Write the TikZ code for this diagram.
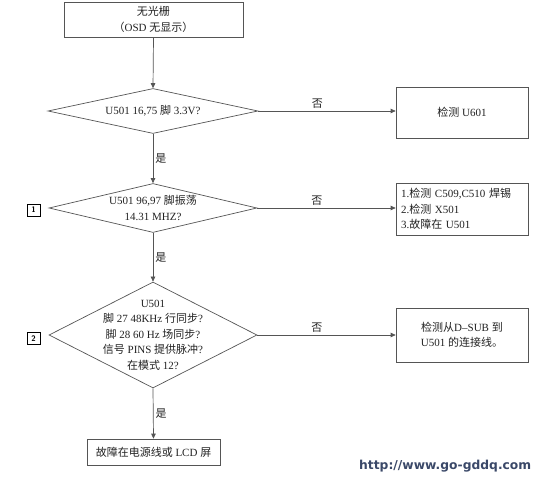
\documentclass[tikz,border=0pt]{standalone}
\usepackage{fontspec}
\setmainfont{Liberation Serif}
\newfontfamily\cjk{Noto Sans CJK SC}
\newfontfamily\webfont{DejaVu Sans}
\usetikzlibrary{shapes.geometric,arrows.meta}
\newcommand\zh[1]{{\cjk #1}}
\definecolor{linec}{HTML}{555555}
\definecolor{txtc}{HTML}{222222}
\definecolor{webc}{HTML}{3A4868}
\tikzset{
  box/.style={draw=linec, line width=0.7pt, rectangle, inner sep=0pt, font=\fontsize{11}{15.5}\selectfont, text=txtc},
  dia/.style={draw=linec, line width=0.7pt, diamond, inner sep=0pt},
  dtext/.style={align=center, font=\fontsize{11}{15.5}\selectfont, text=txtc, inner sep=0pt},
  tag/.style={draw=black, line width=0.6pt, minimum width=13pt, minimum height=12pt, inner sep=0pt, font=\sffamily\bfseries\fontsize{8}{9}\selectfont},
  conn/.style={draw=linec, line width=0.7pt, -{Triangle[length=5pt,width=4.5pt]}},
  lbl/.style={font=\fontsize{11}{12}\selectfont, text=txtc, inner sep=2pt}
}
\begin{document}
\begin{tikzpicture}[x=1pt,y=-1pt]
\useasboundingbox (0,0) rectangle (539,481);
\fill[white] (0,0) rectangle (539,481);
% top box
\node[box, minimum width=179pt, minimum height=35pt, align=center] (start) at (153.5,19.5) {\zh{无光栅}\\\zh{（}OSD \zh{无显示）}};
% diamonds
\node[dia, minimum width=210pt, minimum height=45pt] (d1) at (153,111) {};
\node[dtext] (t1) at (d1) {U501 16,75 \zh{脚} 3.3V?};
\node[dia, minimum width=208pt, minimum height=49pt] (d2) at (153,208) {};
\node[dtext] (t2) at (d2) {U501 96,97 \zh{脚振荡}\\14.31 MHZ?};
\node[dia, minimum width=208pt, minimum height=106pt] (d3) at (153,335) {};
\node[dtext] (t3) at (d3) {U501\\\zh{脚} 27 48KHz \zh{行同步}?\\\zh{脚} 28 60 Hz \zh{场同步}?\\\zh{信号} PINS \zh{提供脉冲}?\\\zh{在模式} 12?};
% right boxes
\node[box, minimum width=132pt, minimum height=51pt] (r1) at (462,112.5) {\zh{检测} U601};
\node[box, minimum width=132pt, minimum height=52pt, align=left, text width=122pt] (r2) at (462,209) {1.\zh{检测} C509,C510 \zh{焊锡}\\2.\zh{检测} X501\\3.\zh{故障在} U501};
\node[box, minimum width=132pt, minimum height=54pt, align=center] (r3) at (462,335) {\zh{检测从}D--SUB \zh{到}\\U501 \zh{的连接线。}};
% bottom box
\node[box, minimum width=133pt, minimum height=26pt] (end) at (153.5,452) {\zh{故障在电源线或} LCD \zh{屏}};
% tags
\node[tag] (g1) at (33.5,210) {1};
\node[tag] (g2) at (33.5,338.5) {2};
% connectors
\draw[conn] (start.south) -- (d1.north);
\draw[conn] (d1.east) -- node[lbl, above, pos=0.43] {\zh{否}} (r1.west |- d1.east);
\draw[conn] (d1.south) -- node[lbl, right, pos=0.5] {\zh{是}} (d2.north);
\draw[conn] (d2.east) -- node[lbl, above, pos=0.43] {\zh{否}} (r2.west |- d2.east);
\draw[conn] (d2.south) -- node[lbl, right, pos=0.5] {\zh{是}} (d3.north);
\draw[conn] (d3.east) -- node[lbl, above, pos=0.43] {\zh{否}} (r3.west |- d3.east);
\draw[conn] (d3.south) -- node[lbl, right, pos=0.5] {\zh{是}} (end.north);
% website
\node[font=\webfont\bfseries\fontsize{12.3}{14}\selectfont, text=webc, anchor=west, inner sep=0pt] (web) at (359,466) {http://www.go-gddq.com};
\end{tikzpicture}
\end{document}
